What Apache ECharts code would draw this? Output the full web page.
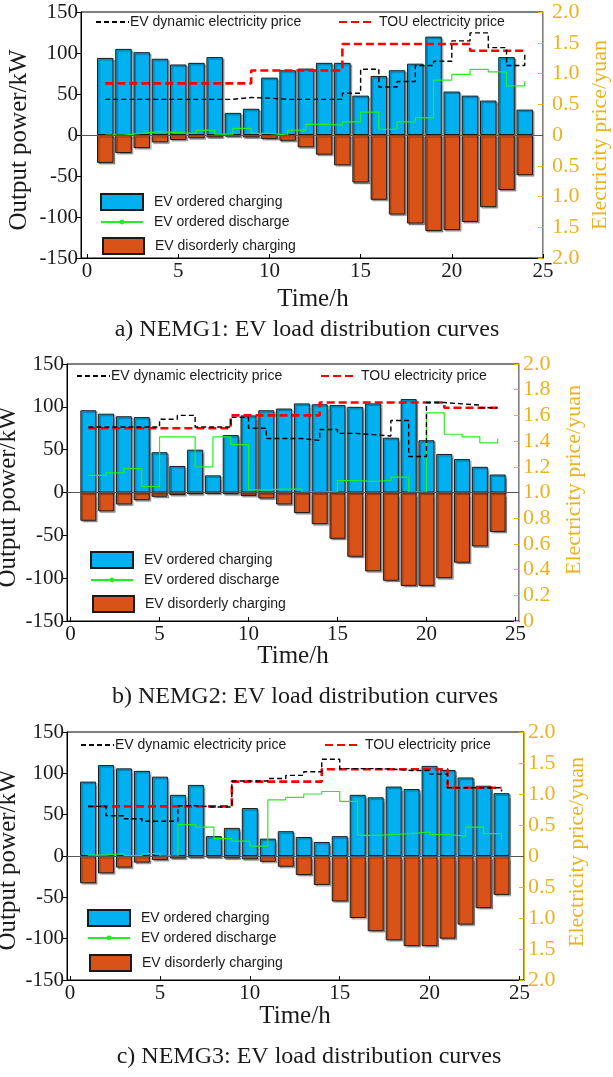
<!DOCTYPE html>
<html>
<head>
<meta charset="utf-8">
<script src="https://cdn.jsdelivr.net/npm/echarts@6/dist/echarts.min.js"></script>
<style>
  html, body { margin: 0; padding: 0; background: #fff; }
  #chartWrap { width: 613px; height: 1077px; }
</style>
</head>
<body>
<div id="chartWrap"></div>
<script>
// x axis: hours of the day
const hours = [1, 2, 3, 4, 5, 6, 7, 8, 9, 10, 11, 12, 13, 14, 15, 16, 17, 18, 19, 20, 21, 22, 23, 24];
const hourTicks = [0, 5, 10, 15, 20, 25];

// NEMG1
const charge1 = [94, 105, 101, 93, 86, 88, 95, 27, 32, 70, 79, 81, 88, 88, 48, 72, 79, 87, 120, 53, 48, 42, 95, 31];
const disorder1 = [-34, -22, -16, -9, -6, -4, -3, -2, -3, -5, -7, -15, -24, -37, -58, -79, -97, -108, -117, -116, -106, -88, -67, -49];
const discharge1 = [0, 2, 4, 3, 2, 6, 1, 8, 2, 0, 6, 13, 12, 16, 28, 7, 16, 21, 67, 74, 80, 77, 60, 66];
const dynamic1 = [0.58, 0.58, 0.58, 0.58, 0.58, 0.58, 0.58, 0.61, 0.6, 0.58, 0.58, 0.58, 0.58, 0.68, 1.07, 0.78, 0.87, 1.13, 1.2, 1.53, 1.66, 1.42, 1.13, 1.35];
const tou1 = [0.84, 0.84, 0.84, 0.84, 0.84, 0.84, 0.84, 0.84, 1.05, 1.05, 1.05, 1.05, 1.05, 1.48, 1.48, 1.48, 1.48, 1.48, 1.48, 1.48, 1.37, 1.37, 1.37, 1.37];

// NEMG2
const charge2 = [96, 92, 89, 88, 47, 31, 50, 20, 67, 90, 96, 98, 104, 103, 102, 100, 104, 64, 109, 61, 45, 39, 30, 21];
const disorder2 = [-33, -22, -14, -9, -5, -3, -2, -1.5, -2, -4, -7, -14, -24, -37, -54, -75, -92, -103, -109, -109, -100, -82, -63, -46];
const discharge2 = [20, 23, 28, 7, 65, 65, 30, 65, 56, 3, 4, 4, 0.5, 1, 14, 13, 14, 18, 0.5, 93, 68, 65, 58, 63];
const dynamic2 = [1.51, 1.51, 1.51, 1.51, 1.57, 1.6, 1.51, 1.51, 1.585, 1.5, 1.42, 1.42, 1.405, 1.49, 1.46, 1.45, 1.44, 1.56, 1.28, 1.7, 1.69, 1.68, 1.66, 1.66];
const tou2 = [1.5, 1.5, 1.5, 1.5, 1.5, 1.5, 1.5, 1.5, 1.6, 1.6, 1.6, 1.6, 1.6, 1.7, 1.7, 1.7, 1.7, 1.7, 1.7, 1.7, 1.66, 1.66, 1.66, 1.66];

// NEMG3
const charge3 = [90, 110, 106, 103, 96, 74, 86, 24, 34, 58, 21, 30, 23, 17, 24, 74, 71, 84, 81, 109, 104, 95, 85, 76];
const disorder3 = [-33, -21, -14, -8, -5, -3, -2, -2, -3, -4, -7, -13, -23, -35, -55, -75, -91, -102, -109, -109, -100, -83, -63, -47];
const discharge3 = [1, 3, 0.5, 3, 0, 38, 35, 21, 18, 12, 68, 71, 75, 78, 66, 25, 26, 27, 29, 26, 24, 35, 27, 20];
const dynamic3 = [0.8, 0.65, 0.6, 0.56, 0.56, 0.81, 0.79, 0.79, 1.21, 1.21, 1.25, 1.3, 1.36, 1.56, 1.41, 1.41, 1.4, 1.38, 1.38, 1.32, 1.1, 1.1, 1.1, 1.04];
const tou3 = [0.8, 0.8, 0.8, 0.8, 0.8, 0.8, 0.8, 0.8, 1.2, 1.2, 1.2, 1.2, 1.2, 1.4, 1.4, 1.4, 1.4, 1.4, 1.4, 1.4, 1.1, 1.1, 1.1, 1.1];

const captions = ['a) NEMG1: EV load distribution curves', 'b) NEMG2: EV load distribution curves', 'c) NEMG3: EV load distribution curves'];

const serif = '"Liberation Serif", "Times New Roman", serif';
const sans = '"Liberation Sans", Arial, sans-serif';
const GOLD = '#EDB120';
const BLUE = '#00B0F0';
const ORANGE = '#D95319';

const panels = [
  { charge: charge1, disorder: disorder1, discharge: discharge1, dynamic: dynamic1, tou: tou1,
    left: 81, top: 12, width: 462, height: 246, xMin: -0.33, xMax: 25, barWidth: 16.5,
    price: [-2, 2, 0.5], rMargin: 9, legTop: 23, dynLeft: 95, touLeft: 338, legLeft: 100, legRows: [201, 223, 245],
    yTitle: [19, 140], rTitle: [600, 135], xTitle: [313, 299], cap: [307, 330] },
  { charge: charge2, disorder: disorder2, discharge: discharge2, dynamic: dynamic2, tou: tou2,
    left: 67, top: 364, width: 452, height: 257, xMin: -0.2, xMax: 25.2, barWidth: 16,
    price: [0, 2, 0.2], rMargin: 4, legTop: 377, dynLeft: 76, touLeft: 320, legLeft: 90, legRows: [559, 581, 603],
    yTitle: [8, 497], rTitle: [574, 480], xTitle: [293, 656], cap: [305, 697] },
  { charge: charge3, disorder: disorder3, discharge: discharge3, dynamic: dynamic3, tou: tou3,
    left: 67, top: 732, width: 457, height: 248, xMin: -0.17, xMax: 25.25, barWidth: 16,
    price: [-2, 2, 0.5], rMargin: 4, legTop: 746, dynLeft: 80, touLeft: 324, legLeft: 87, legRows: [917, 939, 962],
    yTitle: [8, 860], rTitle: [577, 852], xTitle: [295, 1016], cap: [309, 1057] }
];

const pairs = (ys) => hours.map((h, k) => [h, ys[k]]);

const grid = [], xAxis = [], yAxis = [], series = [], legend = [], graphic = [];

panels.forEach((p, i) => {
  grid.push({ left: p.left, top: p.top, width: p.width, height: p.height, show: true,
    borderColor: '#000', borderWidth: 1, backgroundColor: 'transparent', outerBoundsMode: 'none' });

  xAxis.push({
    type: 'value', gridIndex: i, min: p.xMin, max: p.xMax,
    axisLine: { show: true, onZero: false, lineStyle: { color: '#000', width: 1 } },
    axisTick: { show: true, inside: true, length: 4, customValues: hourTicks, lineStyle: { color: '#000' } },
    axisLabel: { customValues: hourTicks, margin: 3, color: '#1a1a1a', fontFamily: serif, fontSize: 21 },
    splitLine: { show: false }
  });

  yAxis.push({
    type: 'value', gridIndex: i, min: -150, max: 150, interval: 50,
    axisLine: { show: true, onZero: false, lineStyle: { color: '#000', width: 1 } },
    axisTick: { show: true, inside: false, length: 4, lineStyle: { color: '#000' } },
    axisLabel: { margin: 3, color: '#1a1a1a', fontFamily: serif, fontSize: 21 },
    splitLine: { show: false }
  });
  yAxis.push({
    type: 'value', gridIndex: i, position: 'right', min: p.price[0], max: p.price[1], interval: p.price[2],
    axisLine: { show: true, onZero: false, lineStyle: { color: GOLD, width: 1 } },
    axisTick: { show: true, inside: true, length: 5, lineStyle: { color: GOLD } },
    axisLabel: { margin: p.rMargin, color: GOLD, fontFamily: serif, fontSize: 22,
      formatter: (v) => (Math.abs(v) < 1e-9 ? '0' : Math.abs(v).toFixed(1)) },
    splitLine: { show: false }
  });

  const common = { xAxisIndex: i, yAxisIndex: 2 * i };
  series.push({
    ...common, type: 'bar', name: 'EV ordered charging', data: pairs(p.charge),
    barWidth: p.barWidth, barGap: '-100%',
    itemStyle: { color: BLUE, borderColor: '#1a1a1a', borderWidth: 1,
      shadowColor: 'rgba(0,0,0,0.35)', shadowBlur: 1, shadowOffsetX: 1.5, shadowOffsetY: 1.5 }
  });
  series.push({
    ...common, type: 'bar', name: 'EV disorderly charging', data: pairs(p.disorder),
    barWidth: p.barWidth, barGap: '-100%',
    itemStyle: { color: ORANGE, borderColor: '#1a1a1a', borderWidth: 1,
      shadowColor: 'rgba(0,0,0,0.35)', shadowBlur: 1, shadowOffsetX: 1.5, shadowOffsetY: 1.5 },
    markLine: { silent: true, symbol: 'none', label: { show: false },
      lineStyle: { color: '#555', width: 1, type: 'solid' }, data: [{ yAxis: 0 }] }
  });
  series.push({
    ...common, type: 'line', name: 'EV ordered discharge', data: pairs(p.discharge), step: 'end',
    symbol: 'circle', symbolSize: 5, showSymbol: false,
    itemStyle: { color: '#22EE22' }, lineStyle: { color: '#22EE22', width: 1.2 }
  });
  series.push({
    xAxisIndex: i, yAxisIndex: 2 * i + 1, type: 'line', name: 'TOU electricity price',
    data: pairs(p.tou), step: 'end', symbol: 'none',
    itemStyle: { color: '#FF0000' }, lineStyle: { color: '#FF0000', width: 2.6, type: [8, 4] }
  });
  series.push({
    xAxisIndex: i, yAxisIndex: 2 * i + 1, type: 'line', name: 'EV dynamic electricity price',
    data: pairs(p.dynamic), step: 'end', symbol: 'none',
    itemStyle: { color: '#000' }, lineStyle: { color: '#000', width: 1.4, type: [5, 3] }
  });

  const legText = { fontFamily: sans, fontSize: 14, color: '#1a1a1a' };
  legend.push({ data: ['EV dynamic electricity price'], left: p.dynLeft, top: p.legTop - 8, padding: 0,
    itemWidth: 33, itemHeight: 16, selectedMode: false, itemStyle: { opacity: 0 },
    textStyle: { ...legText, padding: [0, 0, 0, -4] } });
  legend.push({ data: ['TOU electricity price'], left: p.touLeft, top: p.legTop - 8, padding: 0,
    itemWidth: 33, itemHeight: 16, selectedMode: false, itemStyle: { opacity: 0 },
    textStyle: { ...legText, padding: [0, 0, 0, 2] } });
  legend.push({ data: ['EV ordered charging'], left: p.legLeft, top: p.legRows[0] - 8, padding: 0,
    icon: 'rect', itemWidth: 42, itemHeight: 16, selectedMode: false,
    textStyle: { ...legText, padding: [0, 0, 0, 6] } });
  legend.push({ data: ['EV ordered discharge'], left: p.legLeft, top: p.legRows[1] - 8, padding: 0,
    itemWidth: 42, itemHeight: 6, selectedMode: false,
    textStyle: { ...legText, padding: [0, 0, 0, 6] } });
  legend.push({ data: ['EV disorderly charging'], left: p.legLeft + 2, top: p.legRows[2] - 8, padding: 0,
    icon: 'rect', itemWidth: 41, itemHeight: 16, selectedMode: false,
    textStyle: { ...legText, padding: [0, 0, 0, 6] } });

  graphic.push({ type: 'text', x: p.yTitle[0], y: p.yTitle[1], rotation: Math.PI / 2,
    style: { text: 'Output power/kW', font: '25px ' + serif, fill: '#1a1a1a', align: 'center', verticalAlign: 'middle' } });
  graphic.push({ type: 'text', x: p.rTitle[0], y: p.rTitle[1], rotation: Math.PI / 2,
    style: { text: 'Electricity price/yuan', font: '22px ' + serif, fill: GOLD, align: 'center', verticalAlign: 'middle' } });
  graphic.push({ type: 'text', x: p.xTitle[0], y: p.xTitle[1],
    style: { text: 'Time/h', font: '25px ' + serif, fill: '#1a1a1a', align: 'center', verticalAlign: 'middle' } });
  graphic.push({ type: 'text', x: p.cap[0], y: p.cap[1],
    style: { text: captions[i], font: '24px ' + serif, fill: '#1a1a1a', align: 'center', verticalAlign: 'middle' } });
});

const chart = echarts.init(document.getElementById('chartWrap'));
chart.setOption({
  animation: false,
  backgroundColor: '#fff',
  grid, xAxis, yAxis, series, legend, graphic
});
</script>
</body>
</html>
